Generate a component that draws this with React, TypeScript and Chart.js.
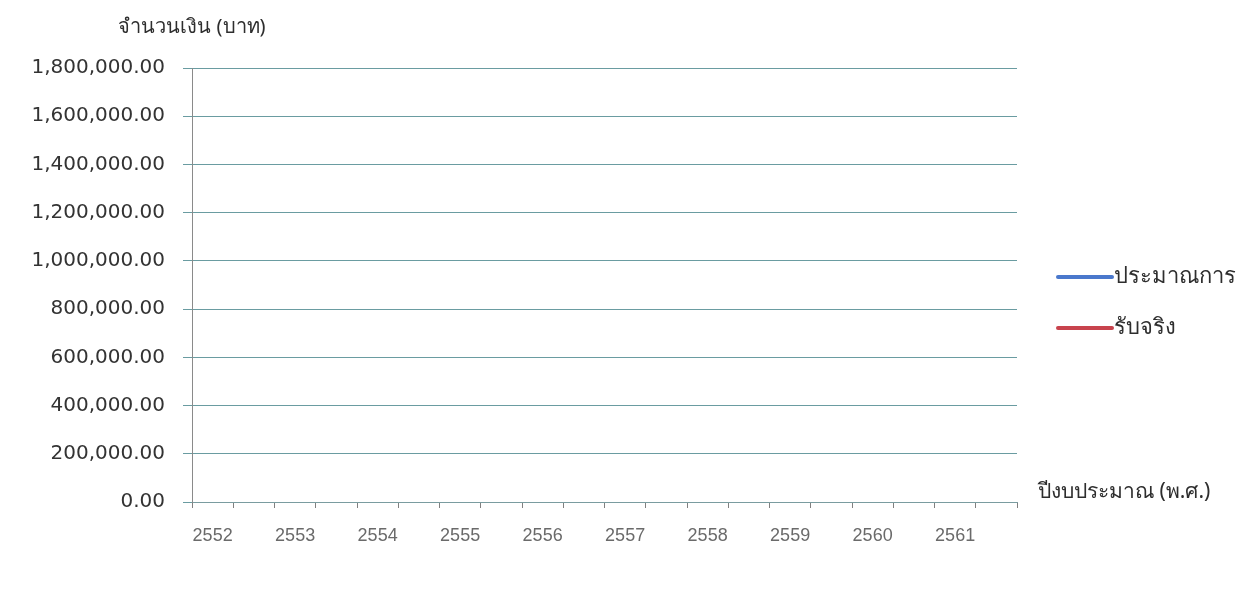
import React, { useEffect, useRef } from "react";
import { Chart, registerables } from "chart.js";

Chart.register(...registerables);

const years = [2552, 2553, 2554, 2555, 2556, 2557, 2558, 2559, 2560, 2561];
// No plotted values are visible in the reference: the series are empty.
const estimateValues: (number | null)[] = [null, null, null, null, null, null, null, null, null, null];
const actualValues: (number | null)[] = [null, null, null, null, null, null, null, null, null, null];
const seriesLabels = ["ประมาณการ", "รับจริง"];
const seriesColors = ["#4a78cc", "#c8434d"];
const yTitle = "จำนวนเงิน (บาท)";
const xTitle = "ปีงบประมาณ (พ.ศ.)";
const yMin = 0;
const yMax = 1800000;
const yStep = 200000;

const FONT = "Tahoma, 'Noto Sans', 'DejaVu Sans', sans-serif";

const overlayPlugin = {
  id: "overlay",
  afterDraw(chart: any) {
    const ctx = chart.ctx as CanvasRenderingContext2D;
    const area = chart.chartArea;
    ctx.save();
    // y axis title
    ctx.fillStyle = "#2e2e2e";
    ctx.font = `20px ${FONT}`;
    ctx.textAlign = "center";
    ctx.textBaseline = "middle";
    ctx.fillText(yTitle, area.left, 27);
    // x axis title
    ctx.textAlign = "left";
    ctx.font = `21px ${FONT}`;
    ctx.fillText(xTitle, area.right + 21, area.bottom - 10);
    // legend
    const ys = [277, 328];
    chart.data.datasets.forEach((ds: any, i: number) => {
      const y = ys[i];
      ctx.strokeStyle = ds.borderColor;
      ctx.lineWidth = 4;
      ctx.lineCap = "round";
      ctx.beginPath();
      ctx.moveTo(area.right + 41, y);
      ctx.lineTo(area.right + 95, y);
      ctx.stroke();
      ctx.fillStyle = "#2e2e2e";
      ctx.font = `22px ${FONT}`;
      ctx.textAlign = "left";
      ctx.textBaseline = "middle";
      ctx.fillText(ds.label, area.right + 97, y);
    });
    ctx.restore();
  },
};

export default function App() {
  const canvasRef = useRef<HTMLCanvasElement | null>(null);

  useEffect(() => {
    document.body.style.margin = "0";
    document.body.style.background = "#ffffff";
    const canvas = canvasRef.current;
    if (!canvas) return;
    const xTickValues: number[] = [];
    for (let v = years[0] - 0.25; v <= years[years.length - 1] + 0.75 + 1e-9; v += 0.25) {
      xTickValues.push(Math.round(v * 100) / 100);
    }
    const isSlotEdge = (v: number) => {
      const f = Math.round((v - Math.floor(v)) * 100);
      return f === 25 || f === 75;
    };
    const chart = new Chart(canvas, {
      type: "line",
      data: {
        datasets: [
          {
            label: seriesLabels[0],
            data: years.map((x, i) => ({ x, y: estimateValues[i] })) as any,
            borderColor: seriesColors[0],
            backgroundColor: seriesColors[0],
            borderWidth: 3,
            pointRadius: 0,
          },
          {
            label: seriesLabels[1],
            data: years.map((x, i) => ({ x, y: actualValues[i] })) as any,
            borderColor: seriesColors[1],
            backgroundColor: seriesColors[1],
            borderWidth: 3,
            pointRadius: 0,
          },
        ],
      },
      options: {
        animation: false,
        responsive: false,
        maintainAspectRatio: false,
        layout: { padding: { top: 68, right: 226, bottom: 0, left: 0 } },
        plugins: {
          legend: { display: false },
          tooltip: { enabled: false },
        },
        scales: {
          x: {
            type: "linear",
            min: years[0] - 0.25,
            max: years[years.length - 1] + 0.75,
            afterBuildTicks: (scale: any) => {
              scale.ticks = xTickValues.map((value) => ({ value }));
            },
            afterFit: (scale: any) => {
              scale.height = 94;
            },
            ticks: {
              autoSkip: false,
              maxRotation: 0,
              minRotation: 0,
              padding: 17,
              color: "#6a6a6a",
              font: { family: "'Liberation Sans', Arial, sans-serif", size: 18 },
              callback: (value: any) => (Number.isInteger(value) ? String(value) : ""),
            },
            grid: {
              drawOnChartArea: false,
              drawTicks: true,
              tickLength: 6,
              color: (c: any) => (c.tick && isSlotEdge(c.tick.value) ? "#808080" : "rgba(0,0,0,0)"),
              tickColor: (c: any) => (c.tick && isSlotEdge(c.tick.value) ? "#808080" : "rgba(0,0,0,0)"),
            },
            border: { display: true, color: "#7a9ca0", width: 1 },
          },
          y: {
            min: yMin,
            max: yMax,
            afterFit: (scale: any) => {
              scale.width = 192;
            },
            ticks: {
              stepSize: yStep,
              padding: 18,
              color: "#333333",
              font: { family: "'DejaVu Sans', sans-serif", size: 20 },
              callback: (value: any) =>
                Number(value).toLocaleString("en-US", {
                  minimumFractionDigits: 2,
                  maximumFractionDigits: 2,
                }),
            },
            grid: {
              color: "#6a9ca1",
              lineWidth: 1,
              tickLength: 9,
              tickColor: "#6a9ca1",
            },
            border: { display: true, color: "#8a8a8a", width: 1 },
          },
        },
      },
      plugins: [overlayPlugin],
    });
    return () => chart.destroy();
  }, []);

  return (
    <div style={{ width: 1243, height: 596, position: "relative" }}>
      <canvas ref={canvasRef} width={1243} height={596} style={{ width: 1243, height: 596, display: "block" }} />
    </div>
  );
}
